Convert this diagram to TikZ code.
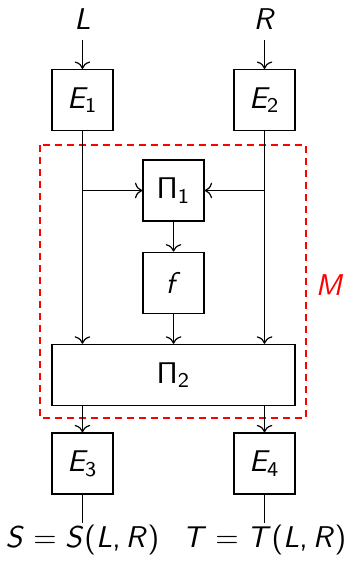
\documentclass[tikz,border=0pt]{standalone}
\usepackage{amsmath}
\usepackage{tikz}
\usetikzlibrary{arrows.meta,positioning}
% sans serif maths, as on slides
\DeclareSymbolFont{operators}{OT1}{cmss}{m}{n}
\DeclareSymbolFont{letters}{OT1}{cmss}{m}{sl}
\DeclareMathSymbol{,}{\mathpunct}{operators}{"2C}

\begin{document}
\begin{tikzpicture}[node distance=0.351cm,
  blk/.style={draw,minimum size=0.715cm,inner sep=0pt},
  lbl/.style={anchor=base}]
  \useasboundingbox (0,0) rectangle (4.030,-6.596);
  \node[lbl] (L) at (0.966,-0.340) {$L$};
  \node[lbl] (R) at (3.099,-0.340) {$R$};
  \node[blk] (E1) at (0.966,-1.172) {$E_1$};
  \node[blk] (E2) at (3.099,-1.172) {$E_2$};
  \node[blk] (P1) at (2.033,-2.232) {$\Pi_1$};
  \node[blk,below=of P1] (F) {$f$};
  \node[blk,below=of F,minimum width=2.847cm] (P2) {$\Pi_2$};
  \node[blk] (E3) at (0.966,-5.430) {$E_3$};
  \node[blk] (E4) at (3.099,-5.430) {$E_4$};
  \node[lbl,inner sep=0.5pt] (S) at (0.966,-6.42) {$S=S(L,R)$};
  \node[lbl,inner sep=0.5pt] (T) at (3.099,-6.42) {$T=T(L,R)$};
  % dashed frame round the middle part M
  \draw[red,dash pattern=on 2.4pt off 1.6pt] (0.469,-1.699) rectangle (3.585,-4.897);
  \node[red] (M) at (3.866,-3.339) {$M$};
  \draw[->] (L) -- (E1);
  \draw[->] (R) -- (E2);
  \draw[->] (E1) -- (E1 |- P2.north);
  \draw[->] (E2) -- (E2 |- P2.north);
  \draw[->] (E1 |- P1) -- (P1);
  \draw[->] (E2 |- P1) -- (P1);
  \draw[->] (P1) -- (F);
  \draw[->] (F) -- (P2);
  \draw[->] (E3 |- P2.south) -- (E3);
  \draw[->] (E4 |- P2.south) -- (E4);
  \draw (E3) -- (S);
  \draw (E4) -- (T);
\end{tikzpicture}
\end{document}
